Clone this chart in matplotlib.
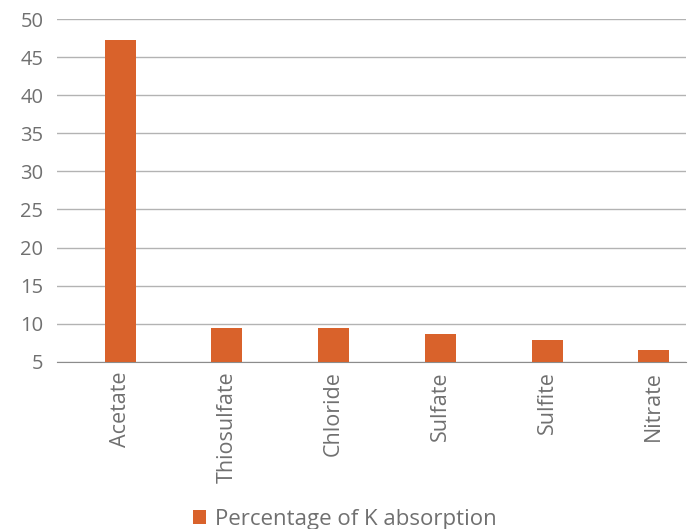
import matplotlib.pyplot as plt

categories = ['Acetate', 'Thiosulfate', 'Chloride', 'Sulfate', 'Sulfite', 'Nitrate']
k_absorption = [47.3, 9.5, 9.5, 8.7, 7.9, 6.6]
y_ticks = [5, 10, 15, 20, 25, 30, 35, 40, 45, 50]

plt.rcParams['font.family'] = ['Open Sans', 'DejaVu Sans']
text_color = '#707070'

fig = plt.figure(figsize=(6.9, 5.29), dpi=100)
ax = fig.add_axes([0.083, 0.316, 0.911, 0.648])

x = range(len(categories))
ax.bar(x, [v - 5 for v in k_absorption], bottom=5, width=0.29, color='#D9622B',
       label='Percentage of K absorption', zorder=3)

ax.set_ylim(5, 50)
ax.set_xlim(-0.59, len(categories) - 0.7)
ax.set_yticks(y_ticks)
ax.set_xticks(list(x))
ax.set_xticklabels(categories, rotation=90)
ax.tick_params(axis='y', length=0, labelsize=14.5, colors=text_color, pad=10)
ax.tick_params(axis='x', length=0, labelsize=15.5, colors=text_color, pad=7)

ax.yaxis.grid(True, color='#b3b3b3', linewidth=1)
ax.set_axisbelow(True)
for s in ['top', 'right', 'left']:
    ax.spines[s].set_visible(False)
ax.spines['bottom'].set_color('#8c8c8c')

fig.legend(loc='lower center', bbox_to_anchor=(0.5, -0.04), frameon=False, fontsize=16,
           labelcolor=text_color, handlelength=0.6, handleheight=0.6, handletextpad=0.4)

fig.savefig('out.png', dpi=100)
